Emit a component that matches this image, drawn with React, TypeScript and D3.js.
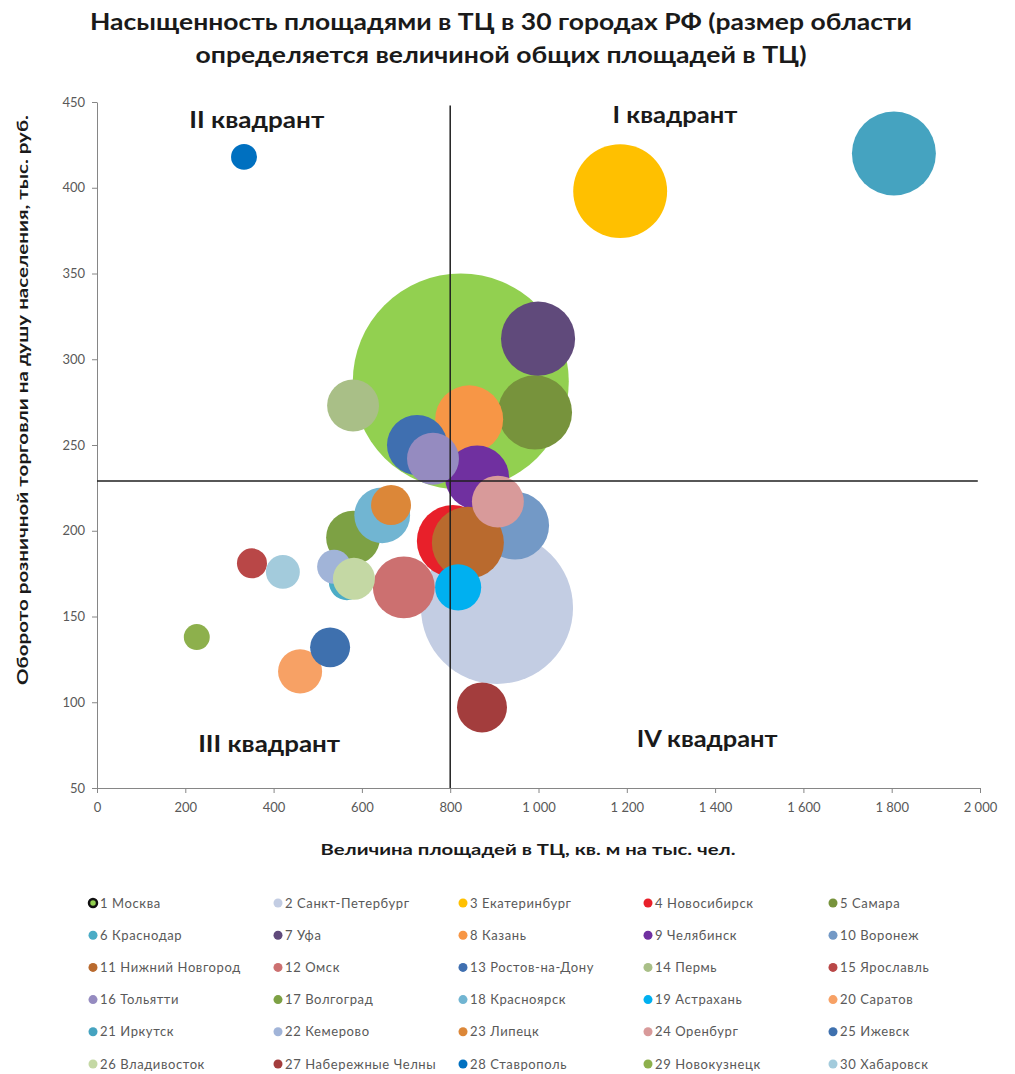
import { useEffect, useRef } from "react";
import * as d3 from "d3";

// 30 городов: площадь ТЦ на 1000 чел., оборот на душу, общая площадь ТЦ (размер пузыря)
const cities = [
  "1 Москва", "2 Санкт-Петербург", "3 Екатеринбург", "4 Новосибирск", "5 Самара",
  "6 Краснодар", "7 Уфа", "8 Казань", "9 Челябинск", "10 Воронеж",
  "11 Нижний Новгород", "12 Омск", "13 Ростов-на-Дону", "14 Пермь", "15 Ярославль",
  "16 Тольятти", "17 Волгоград", "18 Красноярск", "19 Астрахань", "20 Саратов",
  "21 Иркутск", "22 Кемерово", "23 Липецк", "24 Оренбург", "25 Ижевск",
  "26 Владивосток", "27 Набережные Челны", "28 Ставрополь", "29 Новокузнецк", "30 Хабаровск",
];
const areaPerThousand = [
  824, 906, 1185, 806, 992, 566, 999, 843, 861, 947,
  840, 695, 725, 580, 351, 761, 580, 646, 818, 460,
  1805, 537, 666, 908, 528, 582, 872, 333, 226, 421,
];
const turnoverPerCapita = [
  287, 155, 398, 194, 269, 170, 312, 265, 231, 203,
  193, 167, 250, 273, 181, 242, 196, 209, 167, 118,
  420, 179, 215, 217, 132, 172, 97, 418, 138, 176,
];
const totalArea = [
  4500, 2230, 850, 500, 530, 125, 530, 445, 395, 445,
  500, 370, 350, 260, 87, 260, 280, 300, 205, 187,
  680, 111, 154, 260, 154, 170, 241, 65, 65, 111,
];
const colors = [
  "#92d050", "#c3cde3", "#ffc000", "#e8202a", "#77933c",
  "#4bacc6", "#604a7b", "#f79646", "#7030a0", "#7399c6",
  "#b96a2e", "#cc7070", "#3f6fb0", "#a9bf87", "#b94747",
  "#958bc0", "#7da144", "#71b5d2", "#00b0f0", "#f7a165",
  "#45a3c0", "#a1b4d8", "#dc8738", "#d89a9a", "#3e70ae",
  "#c4d8a4", "#a33d3d", "#0070c0", "#8db04c", "#a3cbdc",
];
const xTicks = [0, 200, 400, 600, 800, 1000, 1200, 1400, 1600, 1800, 2000];
const yTicks = [50, 100, 150, 200, 250, 300, 350, 400, 450];
const quadrantX = 800;
const quadrantY = 229;
const quadrants = [
  { label: "I квадрант", x: 1309, y: 441, len: 125 },
  { label: "II квадрант", x: 362, y: 438, len: 135 },
  { label: "III квадрант", x: 390, y: 74, len: 142 },
  { label: "IV квадрант", x: 1382, y: 77, len: 141 },
];
const titleLines = [
  { text: "Насыщенность площадями в ТЦ в 30 городах РФ (размер области", len: 822 },
  { text: "определяется величиной общих площадей в ТЦ)", len: 611 },
];

const W = 1015;
const H = 1074;
const m = { left: 97, right: 35, top: 102, bottom: 286 };
const font = "Lato, 'Open Sans', sans-serif";

const App = () => {
  const ref = useRef<SVGSVGElement>(null);

  useEffect(() => {
    const svg = d3.select(ref.current);
    svg.selectAll("*").remove();

    const x = d3.scaleLinear().domain([0, 2000]).range([m.left, W - m.right]);
    const y = d3.scaleLinear().domain([50, 450]).range([H - m.bottom, m.top]);
    const r = d3.scaleSqrt().domain([0, 4500]).range([0, 108]);
    const fmt = d3.formatLocale({ decimal: ",", thousands: " ", grouping: [3], currency: ["", ""] }).format(",");

    // title
    svg
      .append("g")
      .selectAll("text")
      .data(titleLines)
      .join("text")
      .attr("x", 501)
      .attr("y", (_, i) => 30 + i * 33)
      .attr("text-anchor", "middle")
      .attr("font-family", font)
      .attr("font-weight", 700)
      .attr("font-size", 23)
      .attr("textLength", (d) => d.len)
      .attr("lengthAdjust", "spacingAndGlyphs")
      .attr("fill", "#1a1a1a")
      .text((d) => d.text);

    // axes
    const gx = svg
      .append("g")
      .attr("transform", `translate(0,${y(50)})`)
      .call(d3.axisBottom(x).tickValues(xTicks).tickSize(5).tickSizeOuter(0).tickFormat((d) => fmt(d as number)));
    const gy = svg
      .append("g")
      .attr("transform", `translate(${x(0)},0)`)
      .call(d3.axisLeft(y).tickValues(yTicks).tickSize(5).tickSizeOuter(0));
    [gx, gy].forEach((g) => {
      g.select(".domain").attr("stroke", "#868686");
      g.selectAll(".tick line").attr("stroke", "#868686");
      g.selectAll(".tick text")
        .attr("fill", "#595959")
        .attr("font-family", font)
        .attr("font-size", 13);
    });
    gx.selectAll(".tick text").attr("dy", "1.2em");
    gy.selectAll(".tick text").attr("dx", "-4");

    // bubbles
    svg
      .append("g")
      .selectAll("circle")
      .data(cities.map((c, i) => i))
      .join("circle")
      .attr("cx", (i) => x(areaPerThousand[i]))
      .attr("cy", (i) => y(turnoverPerCapita[i]))
      .attr("r", (i) => r(totalArea[i]))
      .attr("fill", (i) => colors[i]);

    // quadrant lines
    svg
      .append("line")
      .attr("x1", x(0))
      .attr("x2", x(1995))
      .attr("y1", y(quadrantY))
      .attr("y2", y(quadrantY))
      .attr("stroke", "#1f1f1f")
      .attr("stroke-width", 1.5);
    svg
      .append("line")
      .attr("x1", x(quadrantX))
      .attr("x2", x(quadrantX))
      .attr("y1", y(50))
      .attr("y2", y(448))
      .attr("stroke", "#1f1f1f")
      .attr("stroke-width", 1.5);

    svg
      .append("g")
      .selectAll("text")
      .data(quadrants)
      .join("text")
      .attr("x", (d) => x(d.x))
      .attr("y", (d) => y(d.y))
      .attr("text-anchor", "middle")
      .attr("dominant-baseline", "middle")
      .attr("font-family", font)
      .attr("font-weight", 700)
      .attr("font-size", 22)
      .attr("textLength", (d) => d.len)
      .attr("lengthAdjust", "spacingAndGlyphs")
      .attr("fill", "#1a1a1a")
      .text((d) => d.label);

    // axis titles
    svg
      .append("text")
      .attr("x", 528)
      .attr("y", 855)
      .attr("text-anchor", "middle")
      .attr("font-family", font)
      .attr("font-weight", 700)
      .attr("font-size", 16)
      .attr("textLength", 415)
      .attr("lengthAdjust", "spacingAndGlyphs")
      .attr("fill", "#1a1a1a")
      .text("Величина площадей в ТЦ, кв. м на  тыс. чел.");
    svg
      .append("text")
      .attr("transform", `translate(28,400) rotate(-90)`)
      .attr("text-anchor", "middle")
      .attr("font-family", font)
      .attr("font-weight", 700)
      .attr("font-size", 16)
      .attr("textLength", 570)
      .attr("lengthAdjust", "spacingAndGlyphs")
      .attr("fill", "#1a1a1a")
      .text("Оборото розничной  торговли на душу населения, тыс. руб.");

    // legend: 5 columns x 6 rows
    const legend = svg
      .append("g")
      .selectAll("g")
      .data(cities)
      .join("g")
      .attr("transform", (_, i) => `translate(${93 + (i % 5) * 185},${903 + Math.floor(i / 5) * 32.2})`);
    legend
      .append("circle")
      .attr("r", (_, i) => (i === 0 ? 4 : 4.5))
      .attr("fill", (_, i) => colors[i])
      .attr("stroke", (_, i) => (i === 0 ? "#111" : "none"))
      .attr("stroke-width", 2.5);
    legend
      .append("text")
      .attr("x", 7)
      .attr("dy", "0.35em")
      .attr("font-family", font)
      .attr("font-size", 13)
      .attr("letter-spacing", 0.6)
      .attr("fill", "#595959")
      .text((d) => d);
  }, []);

  return (
    <div style={{ position: "absolute", left: 0, top: 0 }}>
      <svg ref={ref} width={W} height={H} style={{ display: "block", background: "#fff" }} />
    </div>
  );
};

export default App;
